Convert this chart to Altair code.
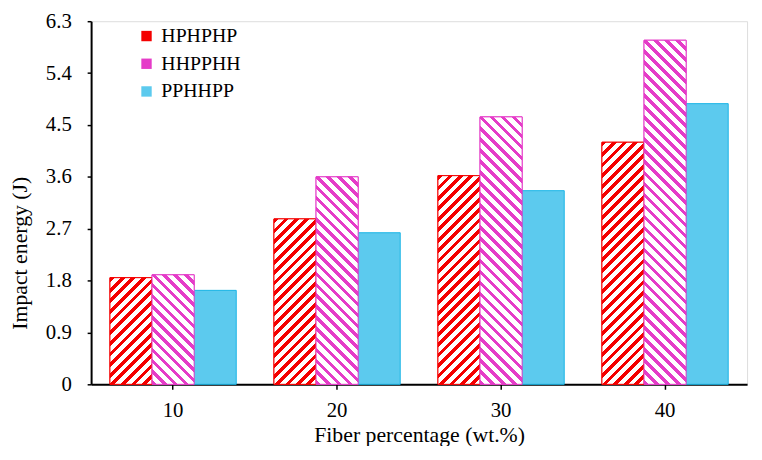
import math
import altair as alt
import pandas as pd

# ---- data ----
categories = ["10", "20", "30", "40"]
series = ["HPHPHP", "HHPPHH", "PPHHPP"]
hphphp = [1.85, 2.87, 3.62, 4.20]
hhpphh = [1.90, 3.60, 4.64, 5.97]
pphhpp = [1.63, 2.63, 3.36, 4.87]
y_ticks = [0, 0.9, 1.8, 2.7, 3.6, 4.5, 5.4, 6.3]

values = {"HPHPHP": hphphp, "HHPPHH": hhpphh, "PPHHPP": pphhpp}
rows = []
for s in series:
    for c, v in zip(categories, values[s]):
        rows.append({"cat": c, "series": s, "value": v})
df = pd.DataFrame(rows)

# ---- style ----
FONT = "'Liberation Serif', 'Times New Roman', Tinos, 'DejaVu Serif', serif"
W, H = 663, 367
YMAX = 6.3
P_IN, P_OUT = 0.23, 0.115
fill_colors = ["#F40000", "#E53CC8", "#5CCAEE"]
line_colors = ["#F40000", "#E53CC8", "#19B4E6"]
bar_w = W / (len(categories) - P_IN + 2 * P_OUT) * (1 - P_IN) / len(series)


def hatch(w, h, color, period, frac, direction):
    k = (w + h) / (w * w + h * h)
    if direction == "/":
        x1, y1, x2, y2 = 0, 0, k * w, k * h
    else:
        x1, y1, x2, y2 = 0, 1, k * w, 1 - k * h
    n = max(1, round((w + h) / period))
    stops = []
    for i in range(n):
        a = i / n
        b = (i + frac) / n
        e = (i + 1) / n
        stops += [
            alt.GradientStop(offset=a, color=color),
            alt.GradientStop(offset=b, color=color),
            alt.GradientStop(offset=b, color="#FFFFFF"),
            alt.GradientStop(offset=e, color="#FFFFFF"),
        ]
    return alt.LinearGradient(gradient="linear", stops=stops, x1=x1, y1=y1, x2=x2, y2=y2)


x_enc = alt.X(
    "cat:N",
    sort=categories,
    scale=alt.Scale(paddingInner=P_IN, paddingOuter=P_OUT),
    axis=alt.Axis(
        title="Fiber percentage (wt.%)",
        labelAngle=0,
        labelFont=FONT, labelFontSize=21, labelColor="#000000", labelPadding=11,
        titleFont=FONT, titleFontSize=22, titleFontWeight="normal", titleColor="#000000",
        titleY=51, titleBaseline="middle",
        domainColor="#000000", domainWidth=2,
        tickColor="#000000", tickWidth=1.5, tickSize=5,
        grid=False,
    ),
)
xo_enc = alt.XOffset("series:N", sort=series, scale=alt.Scale(domain=series, paddingInner=0, paddingOuter=0))
y_enc = alt.Y(
    "value:Q",
    scale=alt.Scale(domain=[0, YMAX], nice=False, zero=True),
    axis=alt.Axis(
        title="Impact energy (J)",
        values=y_ticks,
        format=".1~f",
        labelFont=FONT, labelFontSize=21, labelColor="#000000", labelPadding=16,
        titleFont=FONT, titleFontSize=22, titleFontWeight="normal", titleColor="#000000",
        titleX=-72, titleY=234, titleBaseline="middle", titleAlign="center",
        domainColor="#000000", domainWidth=2,
        tickColor="#000000", tickWidth=1.5, tickSize=4,
        grid=False,
    ),
)

base = alt.Chart(df).mark_bar(strokeWidth=1).encode(
    x=x_enc,
    xOffset=xo_enc,
    y=y_enc,
    color=alt.Color(
        "series:N",
        sort=series,
        scale=alt.Scale(domain=series, range=fill_colors),
        legend=alt.Legend(
            title=None,
            orient="none",
            legendX=46,
            legendY=5,
            symbolType="square",
            symbolSize=110,
            symbolStrokeWidth=0,
            symbolOpacity=1,
            labelFont=FONT,
            labelFontSize=20,
            labelColor="#000000",
            labelOffset=5,
            rowPadding=8,
            padding=0,
        ),
    ),
    stroke=alt.Stroke("series:N", sort=series, scale=alt.Scale(domain=series, range=line_colors), legend=None),
)

layers = [base]
hatch_specs = {"HPHPHP": (fill_colors[0], 10.5, 0.45, "/"), "HHPPHH": (fill_colors[1], 11.0, 0.42, "\\")}
for s, (col, period, frac, direc) in hatch_specs.items():
    for c, v in zip(categories, values[s]):
        h = v * H / YMAX
        grad = hatch(bar_w, h, col, period, frac, direc)
        layer = (
            alt.Chart(df)
            .transform_filter((alt.datum.series == s) & (alt.datum.cat == c))
            .mark_bar(fill=grad, stroke=col, strokeWidth=1)
            .encode(x=x_enc, xOffset=xo_enc, y=y_enc)
        )
        layers.append(layer)

chart = (
    alt.layer(*layers)
    .properties(
        width=W,
        height=H,
        autosize=alt.AutoSizeParams(type="none"),
        padding={"left": 84, "top": 11, "right": 7, "bottom": 60},
    )
    .configure_view(stroke="#000000", strokeWidth=1)
    .configure(background="#FFFFFF")
)

chart.save("out.html", embed_options={"renderer": "svg", "actions": False})
